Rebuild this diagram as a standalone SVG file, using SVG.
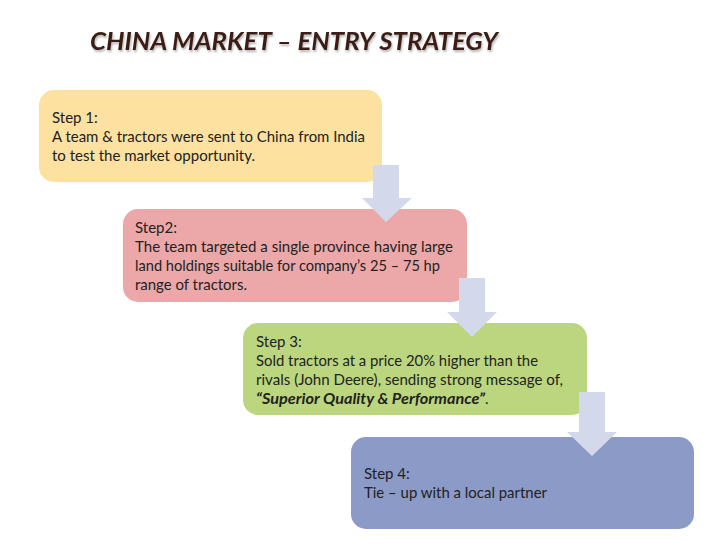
<svg xmlns="http://www.w3.org/2000/svg" width="728" height="546" viewBox="0 0 728 546">
<defs>
<style>
.box{stroke:none}
.t{font-family:Lato,"Open Sans","Liberation Sans",sans-serif;font-size:15px;fill:#222222}
.title{font-family:Lato,"Open Sans","Liberation Sans",sans-serif;font-size:24px;font-weight:bold;font-style:italic;fill:#3b1f14}
.arrow{fill:#d3d9eb}
.bi{font-weight:bold;font-style:italic}
</style>
<filter id="sh" x="-5%" y="-20%" width="110%" height="140%">
<feGaussianBlur in="SourceAlpha" stdDeviation="1"/>
<feOffset dx="1" dy="1.5"/>
<feComponentTransfer><feFuncA type="linear" slope="0.3"/></feComponentTransfer>
<feMerge><feMergeNode/><feMergeNode in="SourceGraphic"/></feMerge>
</filter>
</defs>
<rect width="728" height="546" fill="#ffffff"/>
<text class="title" x="90" y="50" textLength="408" lengthAdjust="spacingAndGlyphs" filter="url(#sh)">CHINA MARKET – ENTRY STRATEGY</text>
<g id="step1">
<rect class="box" x="39" y="90" width="343" height="92" rx="15" fill="#fce1a1"/>
<text class="t" x="52" y="123">Step 1:</text>
<text class="t" x="52" y="142" textLength="313" lengthAdjust="spacingAndGlyphs">A team &amp; tractors were sent to China from India</text>
<text class="t" x="52" y="161" textLength="203" lengthAdjust="spacingAndGlyphs">to test the market opportunity.</text>
</g>
<g id="step2">
<rect class="box" x="123" y="209" width="344" height="93" rx="15" fill="#eca8a9"/>
<text class="t" x="135" y="233">Step2:</text>
<text class="t" x="135" y="252" textLength="318" lengthAdjust="spacingAndGlyphs">The team targeted a single province having large</text>
<text class="t" x="135" y="271" textLength="305" lengthAdjust="spacingAndGlyphs">land holdings suitable for company’s 25 – 75 hp</text>
<text class="t" x="135" y="290" textLength="112" lengthAdjust="spacingAndGlyphs">range of tractors.</text>
</g>
<g id="step3">
<rect class="box" x="243" y="323" width="344" height="92" rx="15" fill="#bcd67f"/>
<text class="t" x="256" y="347">Step 3:</text>
<text class="t" x="256" y="366" textLength="282" lengthAdjust="spacingAndGlyphs">Sold tractors at a price 20% higher than the</text>
<text class="t" x="256" y="385" textLength="307" lengthAdjust="spacingAndGlyphs">rivals (John Deere), sending strong message of,</text>
<text class="t" x="256" y="404"><tspan class="bi" textLength="229" lengthAdjust="spacingAndGlyphs">“Superior Quality &amp; Performance”</tspan>.</text>
</g>
<g id="step4">
<rect class="box" x="351" y="437" width="343" height="92" rx="15" fill="#8b9ac6"/>
<text class="t" x="364" y="479">Step 4:</text>
<text class="t" x="364" y="498" textLength="183" lengthAdjust="spacingAndGlyphs">Tie – up with a local partner</text>
</g>
<g id="connectors">
<polygon class="arrow" points="373,165 399,165 399,198 412,198 386,222 362,198 373,198"/>
<polygon class="arrow" points="459,278 485,278 485,312 497,312 472,337 447,312 459,312"/>
<polygon class="arrow" points="579,392 605,392 605,432 617,432 592,456 567,432 579,432"/>
</g>
</svg>
